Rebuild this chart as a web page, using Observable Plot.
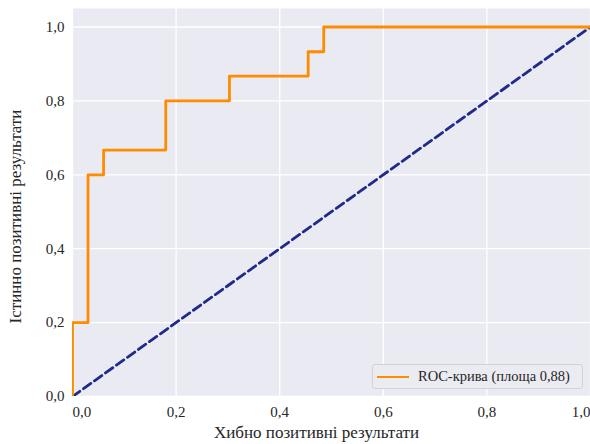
<!DOCTYPE html>
<html><head><meta charset="utf-8">
<script src="https://cdn.jsdelivr.net/npm/d3@7"></script>
<script src="https://cdn.jsdelivr.net/npm/@observablehq/plot@0.6"></script>
<style>
body{margin:0;background:#fff;}
#wrap{position:relative;width:590px;height:444px;font-family:"Liberation Serif",serif;}
#legend{position:absolute;left:372px;top:364px;width:211px;height:25px;background:#ebebf2;border:1px solid #d2d2da;border-radius:3px;box-sizing:border-box;display:flex;align-items:center;font-size:14.5px;color:#262626;}
#legend .sw{width:32px;height:0;border-top:2.5px solid darkorange;margin-left:4px;margin-right:9px;}
</style>
</head><body><div id="wrap"></div>
<script>
const fpr = [0, 0, 0.03, 0.03, 0.06, 0.06, 0.18, 0.18, 0.303, 0.303, 0.455, 0.455, 0.485, 0.485, 1];
const tpr = [0, 0.2, 0.2, 0.6, 0.6, 0.667, 0.667, 0.8, 0.8, 0.867, 0.867, 0.933, 0.933, 1, 1];
const diagX = [0, 1];
const diagY = [0, 1];
const ticks = [0, 0.2, 0.4, 0.6, 0.8, 1.0];
const xLabel = "Хибно позитивні результати";
const yLabel = "Істинно позитивні результати";
const legendLabel = "ROC-крива (площа 0,88)";

const fmt = d => d.toFixed(1).replace(".", ",");
const roc = fpr.map((x, i) => ({x, y: tpr[i]}));
const diag = diagX.map((x, i) => ({x, y: diagY[i]}));
const innerTicks = ticks.slice(1, -1);
const firstTick = ticks.slice(0, 1);
const lastTick = ticks.slice(-1);
const edgeLabel = (data, anchor) => Plot.text(data, {
  x: d => d, text: fmt, frameAnchor: "bottom", lineAnchor: "top",
  textAnchor: anchor, dy: 10, fontSize: 15, fill: "#262626"
});

const chart = Plot.plot({
  width: 590, height: 444,
  marginLeft: 72, marginRight: 0, marginTop: 8, marginBottom: 48,
  style: {fontFamily: "Liberation Serif, serif", fontSize: "15px", color: "#262626", background: "#fff"},
  x: {domain: [0, 1]},
  y: {domain: [0, 1.05]},
  marks: [
    Plot.frame({fill: "#eaeaf2", stroke: null}),
    Plot.gridX(ticks, {stroke: "#fff", strokeOpacity: 1, strokeWidth: 1.3}),
    Plot.gridY(ticks, {stroke: "#fff", strokeOpacity: 1, strokeWidth: 1.3}),
    Plot.axisX(innerTicks, {tickSize: 0, tickPadding: 10, tickFormat: fmt, label: null, fontSize: 15}),
    edgeLabel(firstTick, "start"),
    edgeLabel(lastTick, "end"),
    Plot.axisY(ticks, {tickSize: 0, tickPadding: 8, tickFormat: fmt, label: null, fontSize: 15}),
    Plot.line(diag, {x: "x", y: "y", stroke: "#1f2a8a", strokeWidth: 2.8, strokeDasharray: "9,4.5", clip: true}),
    Plot.line(roc, {x: "x", y: "y", stroke: "darkorange", strokeWidth: 2.8, clip: true}),
    Plot.text([xLabel], {frameAnchor: "bottom", textAnchor: "middle", dy: 41, dx: -15, fontSize: 17, fill: "#262626"}),
    Plot.text([yLabel], {frameAnchor: "left", textAnchor: "middle", rotate: -90, dx: -57, dy: 14, fontSize: 17, fill: "#262626"})
  ]
});
const wrap = document.getElementById("wrap");
wrap.appendChild(chart);
const lg = document.createElement("div");
lg.id = "legend";
lg.innerHTML = '<div class="sw"></div><span></span>';
lg.querySelector("span").textContent = legendLabel;
wrap.appendChild(lg);
</script>
</body></html>
